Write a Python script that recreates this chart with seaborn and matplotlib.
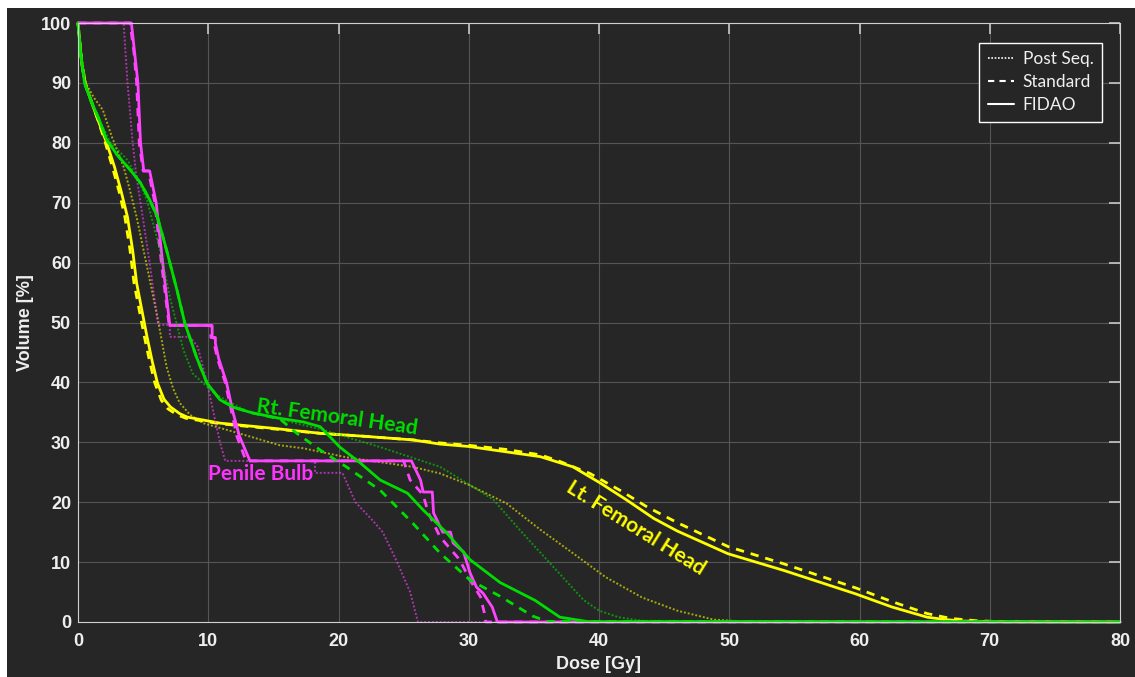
import numpy as np
import pandas as pd
import seaborn as sns
import matplotlib.pyplot as plt
from matplotlib.lines import Line2D
from matplotlib.patches import Rectangle

# ---- DVH data (dose in Gy, volume in %) ----
# Lt. Femoral Head
lfh_post_d = [0, 0.3, 0.6, 1.2, 1.9, 2.6, 3.1, 3.5, 4.0, 4.5, 5.3, 6.1, 6.8, 7.3, 7.8, 8.6, 9.6, 12.2, 15.5, 17.3, 20.6, 25.7, 27.8, 30.0, 32.9, 35.5, 37.8, 40.5, 43.3, 46.0, 48.8, 51.0, 80]
lfh_post_v = [100, 94, 90, 87.6, 85.5, 81, 78.3, 76, 72, 67.6, 59.3, 50.9, 42.6, 39.0, 36.6, 34.6, 33.2, 31.6, 29.5, 29.0, 27.5, 25.9, 24.8, 22.9, 19.8, 15.4, 11.8, 7.5, 4.1, 1.9, 0.4, 0.1, 0]
lfh_std_d = [0, 0.3, 0.6, 1.5, 2.1, 2.7, 3.2, 3.6, 4.0, 4.3, 5.1, 5.5, 5.9, 6.4, 6.9, 7.6, 8.3, 10.9, 14.7, 18.6, 22.0, 25.7, 27.8, 30.0, 32.9, 35.5, 37.0, 39.3, 41.6, 43.7, 46.0, 49.9, 54.2, 59.7, 62.5, 65.2, 67.0, 69.0, 71.0, 80]
lfh_std_v = [100, 93, 89.5, 84, 80, 75.5, 71.5, 67.6, 62, 56.6, 47.6, 43.5, 39.9, 37.0, 35.6, 34.6, 34.0, 33.1, 32.3, 31.5, 31.0, 30.4, 29.9, 29.5, 28.8, 27.9, 26.8, 24.8, 22.0, 19.2, 16.6, 12.6, 9.7, 5.7, 3.4, 1.4, 0.6, 0.2, 0.05, 0]
lfh_fidao_d = [0, 0.3, 0.6, 1.5, 2.2, 2.8, 3.3, 3.8, 4.2, 4.5, 5.3, 5.7, 6.1, 6.6, 7.1, 7.8, 8.4, 10.9, 14.7, 18.6, 22.0, 25.7, 27.8, 30.0, 32.9, 35.5, 38.0, 40.1, 42.1, 44.2, 46.0, 49.9, 54.2, 59.7, 62.5, 65.2, 66.6, 68.0, 71.0, 80]
lfh_fidao_v = [100, 93, 89.5, 84, 80, 76, 72, 67.6, 62, 56.6, 47.6, 43.5, 39.9, 37.2, 35.9, 34.8, 34.2, 33.2, 32.4, 31.5, 31.0, 30.4, 29.7, 29.3, 28.4, 27.6, 25.9, 23.2, 20.4, 17.3, 15.2, 11.4, 8.6, 4.7, 2.5, 0.8, 0.4, 0.15, 0.05, 0]

# Penile Bulb
pb_post_d = [0, 3.5, 3.8, 4.2, 4.45, 4.8, 5.5, 6.15, 7.05, 7.05, 8.6, 9.2, 9.9, 10.4, 10.9, 11.3, 18.2, 18.2, 20.3, 21.3, 22.6, 23.4, 24.5, 25.5, 26.1, 80]
pb_post_v = [100, 100, 90, 80, 75, 70, 60, 49.6, 49.6, 47.6, 47.6, 45.9, 40, 35, 30, 26.9, 26.9, 24.9, 24.9, 20, 17, 15, 10, 5, 0, 0]
pb_std_d = [0, 4.0, 4.3, 4.5, 4.7, 5.0, 5.4, 5.9, 6.4, 7.0, 10.2, 10.2, 10.45, 10.45, 10.7, 11.3, 11.8, 12.2, 12.9, 25.0, 25.5, 26.5, 26.9, 27.8, 29.3, 30.1, 30.9, 31.2, 31.3, 80]
pb_std_v = [100, 100, 95, 90, 80, 75.3, 75.3, 70, 60, 49.5, 49.5, 47.5, 47.5, 46.5, 44, 40, 35, 31, 26.9, 26.9, 23.7, 21.2, 18.2, 14.2, 10.4, 7.0, 4.2, 1.5, 0, 0]
pb_fidao_d = [0, 4.1, 4.35, 4.6, 4.8, 5.05, 5.5, 6.0, 6.5, 7.05, 10.3, 10.3, 10.55, 10.55, 10.8, 11.4, 11.9, 12.4, 13.2, 25.6, 26.3, 26.5, 27.2, 27.3, 28.0, 28.6, 28.8, 29.6, 30.1, 30.6, 31.1, 31.8, 32.2, 80]
pb_fidao_v = [100, 100, 95, 90, 80, 75.3, 75.3, 70, 60, 49.5, 49.5, 47.5, 47.5, 46.5, 44, 40, 35, 31, 26.9, 26.9, 23.7, 21.7, 21.7, 18.2, 15.0, 15.0, 13.2, 11.7, 8.2, 5.8, 4.8, 2.5, 0, 0]

# Rt. Femoral Head
rfh_post_d = [0, 0.2, 0.5, 1.0, 1.6, 2.5, 3.2, 3.8, 4.6, 5.3, 6.3, 7.1, 8.1, 8.8, 9.6, 10.6, 11.7, 13.0, 14.7, 17.8, 18.6, 23.2, 27.8, 30.3, 31.9, 33.7, 34.9, 37.0, 38.8, 40.0, 41.5, 43.3, 80]
rfh_post_v = [100, 95, 90, 87, 84, 80, 78.5, 77.1, 74, 70.4, 62.1, 53.8, 45.4, 41.5, 39.9, 38.0, 36.6, 35.2, 34.3, 32.6, 32.2, 29.2, 25.9, 22.6, 20.4, 15.9, 13.0, 8.0, 3.7, 1.9, 0.8, 0.2, 0]
rfh_std_d = [0, 0.2, 0.5, 1.0, 1.6, 2.2, 3.0, 4.0, 4.8, 5.5, 6.1, 6.8, 7.6, 8.2, 9.1, 9.9, 10.9, 12.0, 13.4, 15.5, 16.8, 18.6, 20.6, 23.2, 25.7, 27.8, 30.1, 32.4, 34.9, 36.0, 80]
rfh_std_v = [100, 95, 90, 87, 84, 80.5, 78, 75.5, 73.3, 70.5, 67.6, 62.1, 55.4, 49.9, 44.2, 39.9, 37.1, 35.8, 34.9, 33.9, 31.5, 28.7, 25.9, 22.0, 16.5, 11.5, 7.0, 4.3, 1.0, 0.1, 0]
rfh_fidao_d = [0, 0.2, 0.5, 1.0, 1.6, 2.2, 3.0, 4.0, 4.8, 5.5, 6.1, 6.8, 7.6, 8.2, 9.1, 9.9, 10.9, 12.0, 13.4, 15.5, 17.3, 18.6, 20.1, 21.7, 23.2, 25.3, 26.5, 28.3, 30.1, 32.4, 35.1, 37.0, 39.2, 80]
rfh_fidao_v = [100, 95, 90, 87, 84, 80.5, 78, 75.5, 73.3, 70.5, 67.6, 62.1, 55.4, 49.9, 44.2, 39.9, 37.1, 35.8, 34.9, 34.0, 33.4, 32.6, 29.2, 26.5, 23.7, 21.5, 18.7, 14.9, 10.4, 6.6, 3.6, 0.8, 0.05, 0]

structures = ["Lt. Femoral Head", "Penile Bulb", "Rt. Femoral Head"]
plans = ["Post Seq.", "Standard", "FIDAO"]

# =========================
# build long table
# =========================
curves = {
    ("Lt. Femoral Head", "Post Seq."): (lfh_post_d, lfh_post_v),
    ("Lt. Femoral Head", "Standard"): (lfh_std_d, lfh_std_v),
    ("Lt. Femoral Head", "FIDAO"): (lfh_fidao_d, lfh_fidao_v),
    ("Penile Bulb", "Post Seq."): (pb_post_d, pb_post_v),
    ("Penile Bulb", "Standard"): (pb_std_d, pb_std_v),
    ("Penile Bulb", "FIDAO"): (pb_fidao_d, pb_fidao_v),
    ("Rt. Femoral Head", "Post Seq."): (rfh_post_d, rfh_post_v),
    ("Rt. Femoral Head", "Standard"): (rfh_std_d, rfh_std_v),
    ("Rt. Femoral Head", "FIDAO"): (rfh_fidao_d, rfh_fidao_v),
}
frames = []
for (s, p), (d, v) in curves.items():
    frames.append(pd.DataFrame({"Dose": d, "Volume": v, "Structure": s, "Plan": p}))
df = pd.concat(frames, ignore_index=True)

colors = {"Lt. Femoral Head": "#ffff00", "Penile Bulb": "#ff44ff", "Rt. Femoral Head": "#00dd00"}
line_kw = {
    "Post Seq.": dict(linestyle=(0, (1, 1)), linewidth=1.4, alpha=0.6),
    "Standard": dict(linestyle=(0, (3, 2.5)), linewidth=2.0, alpha=1.0),
    "FIDAO": dict(linestyle="-", linewidth=2.0, alpha=1.0),
}

# =========================
# style
# =========================
bg = "#262626"
sns.set_style("darkgrid", rc={
    "axes.facecolor": bg,
    "grid.color": "#555555",
    "grid.linewidth": 1.0,
    "axes.edgecolor": "#d0d0d0",
    "axes.linewidth": 1.5,
    "xtick.color": "#c8c8c8",
    "ytick.color": "#c8c8c8",
    "text.color": "white",
})
plt.rcParams["font.family"] = ["Liberation Sans", "DejaVu Sans"]

fig = plt.figure(figsize=(11.35, 6.77), dpi=100, facecolor="white")
fig.add_artist(Rectangle((7 / 1135, 0), 1128 / 1135, 669 / 677, transform=fig.transFigure,
                         facecolor=bg, edgecolor="none", zorder=-5))
ax = fig.add_axes([78 / 1135, 1 - 622 / 677, 1042 / 1135, 599 / 677])
ax.set_facecolor(bg)

for s in structures:
    for p in plans:
        sub = df[(df["Structure"] == s) & (df["Plan"] == p)]
        sns.lineplot(data=sub, x="Dose", y="Volume", ax=ax, color=colors[s],
                     sort=False, estimator=None, clip_on=False, **line_kw[p])

ax.set_xlim(0, 80)
ax.set_ylim(0, 100)
ax.set_xticks(np.arange(0, 81, 10))
ax.set_yticks(np.arange(0, 101, 10))
ax.tick_params(direction="in", length=8, width=1.2, top=True, right=True,
               labelsize=13, labelcolor="#eeeeee")
ax.tick_params(axis="x", pad=8)
ax.tick_params(axis="y", pad=5)
for lab in ax.get_xticklabels() + ax.get_yticklabels():
    lab.set_fontweight("bold")
ax.set_xlabel("Dose [Gy]", fontsize=13, fontweight="bold", color="#eeeeee", labelpad=4)
ax.set_ylabel("Volume [%]", fontsize=13, fontweight="bold", color="#eeeeee", labelpad=5)
for sp in ax.spines.values():
    sp.set_visible(True)
    sp.set_color("#d0d0d0")

# labels on the curves
lab_font = ["Lato", "DejaVu Sans"]
ax.text(19.9, 34.1, "Rt. Femoral Head", color="#00dd00", fontsize=15, fontweight="bold",
        family=lab_font, rotation=-8, ha="center", va="center", rotation_mode="anchor")
ax.text(14.05, 24.7, "Penile Bulb", color="#ff33ff", fontsize=15, fontweight="bold",
        family=lab_font, ha="center", va="center")
ax.text(42.8, 15.7, "Lt. Femoral Head", color="#ffff00", fontsize=15, fontweight="bold",
        family=lab_font, rotation=-32, ha="center", va="center", rotation_mode="anchor")

# legend
handles = [Line2D([], [], color="white", lw=1.2, linestyle=(0, (1, 1))),
           Line2D([], [], color="white", lw=1.5, linestyle=(0, (3, 2.5))),
           Line2D([], [], color="white", lw=1.5, linestyle="-")]
leg = ax.legend(handles, plans, loc="upper right", bbox_to_anchor=(0.983, 0.967),
                borderaxespad=0, fancybox=False, framealpha=1, facecolor=bg,
                edgecolor="white", prop={"family": lab_font, "size": 12.5},
                handlelength=1.5, handletextpad=0.5, labelspacing=0.4,
                borderpad=0.5)
leg.get_frame().set_linewidth(1.0)
for t in leg.get_texts():
    t.set_color("#f0f0f0")

plt.savefig("out.png", dpi=100, facecolor="white")
